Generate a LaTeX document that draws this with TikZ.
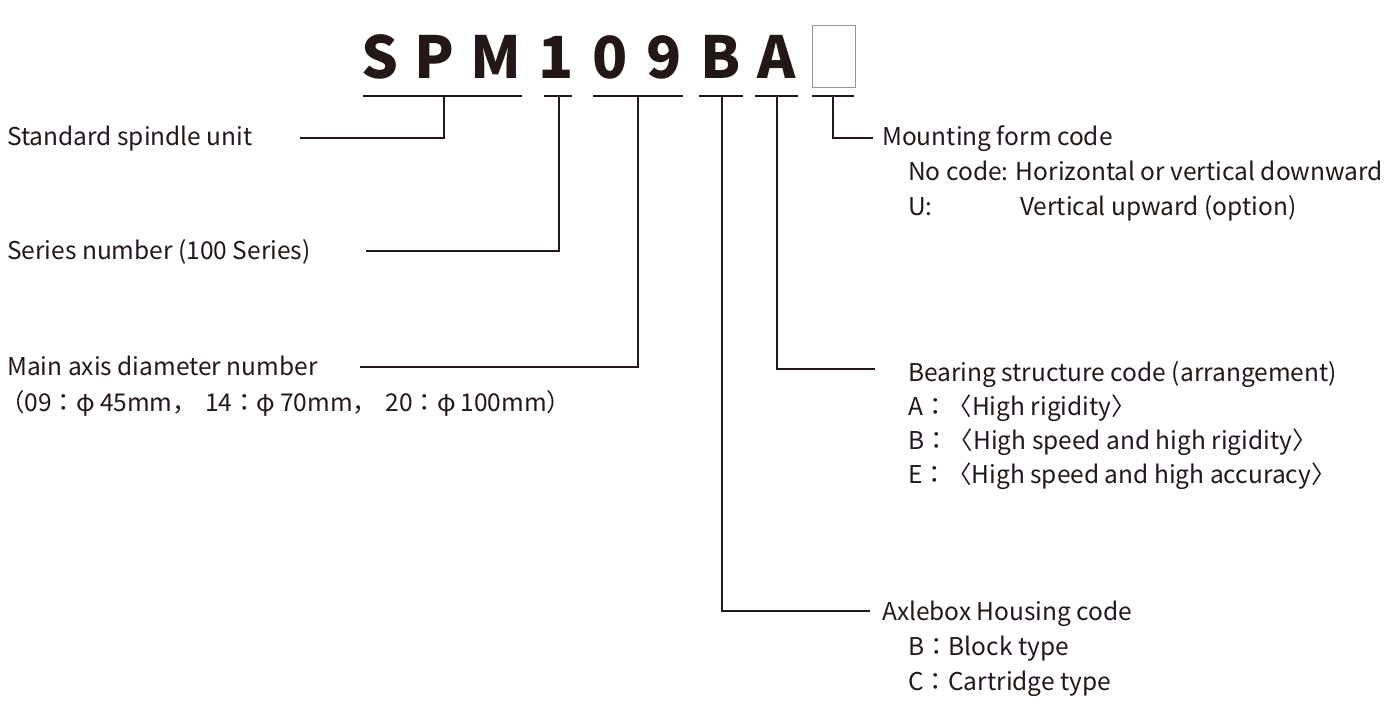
\documentclass[tikz,border=0pt]{standalone}
\usepackage{fontspec}
\setmainfont{Noto Sans CJK JP}
\usepackage{tikz}
\usetikzlibrary{positioning}
\definecolor{figink}{RGB}{35,24,21}
\definecolor{figbox}{RGB}{150,150,150}
\tikzset{
  codeletter/.style={font=\fontsize{58}{58}\selectfont\bfseries, text=figink, inner sep=0pt, anchor=base},
  codebar/.style={draw=figink, line width=1.5pt},
  leader/.style={draw=figink, line width=1.5pt},
  figlabel/.style={font=\fontsize{24.5}{30}\selectfont, text=figink, inner sep=0pt, anchor=base west}
}
\begin{document}
\begin{tikzpicture}[x=1pt,y=-1pt]
  \useasboundingbox (0,0) rectangle (1392,725);

  % code letters
  \node[codeletter] (lS) at (380,78) {S};
  \node[codeletter] (lP) at (434,78) {P};
  \node[codeletter] (lM) at (496,78) {M};
  \node[codeletter] (l1) at (556,78) {1};
  \node[codeletter] (l0) at (610,78) {0};
  \node[codeletter] (l9) at (664,78) {9};
  \node[codeletter] (lB) at (721,78) {B};
  \node[codeletter] (lA) at (777,78) {A};
  \node[draw=figbox, line width=1pt, minimum width=43pt, minimum height=61pt, inner sep=0pt] (lbox) at (833.5,56.5) {};

  % bars under the letters
  \draw[codebar] (363,96) -- (522,96);
  \draw[codebar] (544,96) -- (572,96);
  \draw[codebar] (593,96) -- (683,96);
  \draw[codebar] (699,96) -- (743,96);
  \draw[codebar] (755,96) -- (798,96);
  \draw[codebar] (812,96) -- (854,96);
  \coordinate (tSPM) at (444,96);
  \coordinate (tSer) at (559,96);
  \coordinate (tDia) at (638,96);
  \coordinate (tHou) at (722,96);
  \coordinate (tBrg) at (777,96);
  \coordinate (tMnt) at (833,96);

  % left labels
  \node[figlabel] (std) at (7,145) {Standard spindle unit};
  \node[figlabel] (ser) at (7,259) {Series number (100 Series)};
  \node[figlabel] (dia) at (7,375) {Main axis diameter number};
  \node[figlabel] (dia2) at (0,411) {（09：φ\hspace{5pt}45mm，\hspace{8pt}14：φ\hspace{5pt}70mm，\hspace{8pt}20：φ\hspace{5pt}100mm）};
  \coordinate (eStd) at (300,138);
  \coordinate (eSer) at (366,251);
  \coordinate (eDia) at (360,367);

  % right labels
  \node[figlabel] (mnt) at (882,145) {Mounting form code};
  \node[figlabel] (mnt1) at (908,180) {No code: Horizontal or vertical downward};
  \node[figlabel] (mnt2) at (908,215) {U:};
  \node[figlabel] (mnt3) at (1020,215) {Vertical upward (option)};
  \node[figlabel] (brg) at (908,381) {Bearing structure code (arrangement)};
  \node[figlabel] (brg1) at (908,415) {A：〈High rigidity〉};
  \node[figlabel] (brg2) at (908,449) {B：〈High speed and high rigidity〉};
  \node[figlabel] (brg3) at (908,483) {E：〈High speed and high accuracy〉};
  \node[figlabel] (hou) at (882,620) {Axlebox Housing code};
  \node[figlabel] (hou1) at (908,655) {B：Block type};
  \node[figlabel] (hou2) at (908,690) {C：Cartridge type};
  \coordinate (eMnt) at (873,138);
  \coordinate (eBrg) at (875,369);
  \coordinate (eHou) at (870,611);

  % leaders
  \draw[leader] (tSPM) |- (eStd);
  \draw[leader] (tSer) |- (eSer);
  \draw[leader] (tDia) |- (eDia);
  \draw[leader] (tHou) |- (eHou);
  \draw[leader] (tBrg) |- (eBrg);
  \draw[leader] (tMnt) |- (eMnt);
\end{tikzpicture}
\end{document}
